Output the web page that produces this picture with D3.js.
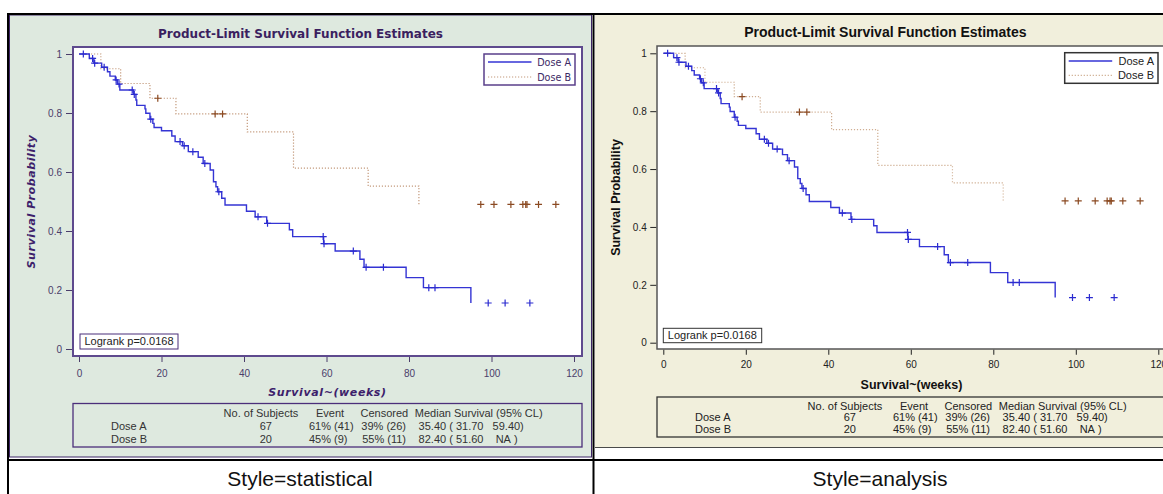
<!DOCTYPE html>
<html>
<head>
<meta charset="utf-8">
<script src="https://cdn.jsdelivr.net/npm/d3@7"></script>
<style>
  html, body { margin: 0; padding: 0; background: #ffffff; }
  svg { display: block; }
</style>
</head>
<body>
<svg id="chart" width="1163" height="494"></svg>
<script>
// ---- Product-limit (Kaplan-Meier) estimates, time in weeks ----
// Step times and the survival level reached at each step.
const doseATimes = [0, 2.5, 3.6, 5.5, 6.9, 7.5, 8.8, 9.3, 9.9, 13.2, 13.8, 14.0, 16.0, 16.2, 17.2, 17.9, 18.2,
  20.0, 22.5, 23.3, 25.1, 26.5, 28.9, 30.1, 31.8, 32.6, 33.2, 33.6, 34.6, 35.4, 40.6, 42.7, 45.5, 51.0, 51.8,
  59.3, 62.1, 68.1, 69.1, 79.3, 83.5, 95.0];
const doseASurv = [1, 0.985, 0.969, 0.955, 0.940, 0.925, 0.912, 0.898, 0.878, 0.863, 0.844, 0.826, 0.814, 0.799,
  0.779, 0.765, 0.751, 0.740, 0.722, 0.703, 0.689, 0.669, 0.650, 0.629, 0.607, 0.567, 0.550, 0.533, 0.511, 0.488,
  0.467, 0.448, 0.426, 0.404, 0.381, 0.357, 0.332, 0.304, 0.277, 0.242, 0.208, 0.156];
const doseACensored = [1.05, 3.3, 3.8, 6.1, 9.0, 9.7, 12.9, 13.4, 17.4, 24.5, 25.5, 27.6, 30.5, 33.9, 43.4, 45.7,
  59.2, 59.4, 66.5, 69.6, 73.8, 84.8, 86.3, 99.2, 103.3, 109.3];

const doseBTimes = [0, 5.3, 10.1, 17.2, 23.5, 40.8, 52.0, 70.1, 82.4];
const doseBSurv = [1, 0.95, 0.90, 0.85, 0.797, 0.736, 0.613, 0.552, 0.490];
const doseBCensored = [19.1, 33.0, 34.8, 97.4, 100.6, 104.7, 107.6, 108.3, 108.6, 111.4, 115.6];

const seriesNames = ["Dose A", "Dose B"];
const xTicks = [0, 20, 40, 60, 80, 100, 120];
const yTicks = [0, 0.2, 0.4, 0.6, 0.8, 1];

// Summary table
const tableHeader = ["No. of Subjects", "Event", "Censored", "Median Survival (95% CL)"];
const tableSubjects = [67, 20];
const tableEvent = ["61% (41)", "45% (9)"];
const tableCensored = ["39% (26)", "55% (11)"];
const tableMedianCI = ["35.40 ( 31.70   59.40)", "82.40 ( 51.60    NA )"];

const chartTitle = "Product-Limit Survival Function Estimates";
const xTitle = "Survival~(weeks)";
const yTitle = "Survival Probability";
const logrankText = "Logrank p=0.0168";
const captions = ["Style=statistical", "Style=analysis"];

// ---- drawing ----
const W = 1163, H = 494;
const svg = d3.select("#chart");
const ARIAL = "'Liberation Sans', Arial, Helvetica, sans-serif";
const VERD = "'DejaVu Sans', Verdana, sans-serif";

svg.append("rect").attr("width", W).attr("height", H).attr("fill", "#ffffff");

// panel backgrounds
svg.append("rect").attr("x", 9.5).attr("y", 15).attr("width", 582).attr("height", 442)
  .attr("fill", "#dee9df").attr("stroke", "#3d2466").attr("stroke-width", 1);
svg.append("rect").attr("x", 595).attr("y", 15).attr("width", 620).attr("height", 432.5)
  .attr("fill", "#f1efdc");
svg.append("line").attr("x1", 595).attr("x2", W).attr("y1", 447.5).attr("y2", 447.5)
  .attr("stroke", "#4a4a4a").attr("stroke-width", 1);

// outer grid of the layout table
const grid = svg.append("g").attr("stroke", "#000").attr("stroke-width", 2);
grid.append("line").attr("x1", 7).attr("x2", W).attr("y1", 14).attr("y2", 14);
grid.append("line").attr("x1", 7).attr("x2", W).attr("y1", 460).attr("y2", 460);
grid.append("line").attr("x1", 8).attr("x2", 8).attr("y1", 13).attr("y2", H);
grid.append("line").attr("x1", 593.5).attr("x2", 593.5).attr("y1", 13).attr("y2", H);

const panels = [
  { // statistical style
    ox: 0,
    frame: [73, 47, 582, 356], xRange: [79, 574], yRange: [349, 54],
    wallStroke: "#5e4a8e", wallWidth: 2,
    tickColor: "#4a3d6a", tickFont: ARIAL, tickSize: 10, xPad: 7.4, yPad: 4,
    titleFont: VERD, titleSize: 12, titleColor: "#3b1f5f", titleX: 300.5, titleY: 37.5,
    axisTitleFont: VERD, axisTitleSize: 11, axisTitleStyle: "italic", axisTitleColor: "#3d1f6b",
    axisTitleSpacing: 0.6, xTitleY: 396, yTitleX: 34.5,
    legend: [484, 54, 575, 85], legendStroke: "#5a3f8a", legendFont: VERD, legendSize: 9.6,
    legendColor: "#3d2a66", legendRows: [62, 77],
    boxStroke: "#4b2f7a", logBox: [80, 334, 178, 349], logText: "#222",
    table: [73, 403.5, 582, 447], tableRows: [416.7, 430, 443.3], tableColor: "#333",
    captionX: 300, lineA: "#3434d4", lineB: "#c49a7c", markA: "#2b2bd0", markB: "#8b4a22"
  },
  { // analysis style
    ox: 584,
    frame: [657, 46, 1166, 349], xRange: [663.3, 1158.3], yRange: [342.7, 53.3],
    wallStroke: "#555555", wallWidth: 1.5,
    tickColor: "#222", tickFont: ARIAL, tickSize: 10, xPad: 6.6, yPad: 3.5,
    titleFont: ARIAL, titleSize: 14, titleColor: "#111", titleX: 885.4, titleY: 37,
    axisTitleFont: ARIAL, axisTitleSize: 12.5, axisTitleStyle: "normal", axisTitleColor: "#111",
    axisTitleSpacing: 0, xTitleY: 388.5, yTitleX: 619.5,
    legend: [1064.7, 52.7, 1158, 83.3], legendStroke: "#333", legendFont: ARIAL, legendSize: 11,
    legendColor: "#222", legendRows: [61, 75.3],
    boxStroke: "#333", logBox: [663.3, 328.3, 761.7, 342.7], logText: "#222",
    table: [657, 397, 1166, 437], tableRows: [409.5, 421, 432.5], tableColor: "#222",
    captionX: 880, lineA: "#3434d4", lineB: "#cfae92", markA: "#2b2bd0", markB: "#8b4a22"
  }
];

// survival level in force at time t
function levelAt(times, surv, t) {
  const i = d3.bisectRight(times, t) - 1;
  return surv[Math.max(0, i)];
}

function plusPath(cx, cy, r) {
  return `M${cx - r},${cy}H${cx + r}M${cx},${cy - r}V${cy + r}`;
}

// keep runs of spaces in the confidence-limit column
const keepSpaces = s => s.replace(/ /g, "\u00a0");

panels.forEach((p, pi) => {
  const g = svg.append("g");
  const x = d3.scaleLinear().domain([0, 120]).range(p.xRange);
  const y = d3.scaleLinear().domain([0, 1]).range(p.yRange);
  const [fx0, fy0, fx1, fy1] = p.frame;

  // plot wall
  g.append("rect").attr("x", fx0).attr("y", fy0).attr("width", fx1 - fx0).attr("height", fy1 - fy0)
    .attr("fill", "#ffffff").attr("stroke", p.wallStroke).attr("stroke-width", p.wallWidth);

  // axes
  const yAxis = d3.axisLeft(y).tickValues(yTicks).tickFormat(d3.format("~g")).tickSize(6).tickPadding(p.yPad);
  const ya = g.append("g").attr("transform", `translate(${fx0 - p.wallWidth / 2},0)`).call(yAxis);
  const xAxis = d3.axisBottom(x).tickValues(xTicks).tickFormat(d3.format("d")).tickSize(5).tickPadding(p.xPad);
  const xa = g.append("g").attr("transform", `translate(0,${fy1 + p.wallWidth / 2})`).call(xAxis);
  [ya, xa].forEach(a => {
    a.select(".domain").remove();
    a.selectAll(".tick line").attr("stroke", p.tickColor).attr("stroke-width", 1);
    a.selectAll(".tick text").attr("fill", p.tickColor).attr("font-family", p.tickFont)
      .attr("font-size", p.tickSize);
  });

  // titles
  g.append("text").attr("x", p.titleX).attr("y", p.titleY).attr("text-anchor", "middle")
    .attr("font-family", p.titleFont).attr("font-weight", "bold").attr("font-size", p.titleSize)
    .attr("fill", p.titleColor).text(chartTitle);
  g.append("text").attr("x", (fx0 + fx1) / 2).attr("y", p.xTitleY).attr("text-anchor", "middle")
    .attr("font-family", p.axisTitleFont).attr("font-weight", "bold").attr("font-style", p.axisTitleStyle)
    .attr("font-size", p.axisTitleSize).attr("fill", p.axisTitleColor)
    .attr("letter-spacing", p.axisTitleSpacing).text(xTitle);
  g.append("text").attr("transform", `translate(${p.yTitleX},${(fy0 + fy1) / 2}) rotate(-90)`)
    .attr("text-anchor", "middle")
    .attr("font-family", p.axisTitleFont).attr("font-weight", "bold").attr("font-style", p.axisTitleStyle)
    .attr("font-size", p.axisTitleSize).attr("fill", p.axisTitleColor)
    .attr("letter-spacing", p.axisTitleSpacing).text(yTitle);

  // survival curves
  const step = d3.line().x(d => x(d[0])).y(d => y(d[1])).curve(d3.curveStepAfter);
  const ptsA = doseATimes.map((t, i) => [t, doseASurv[i]]);
  const ptsB = doseBTimes.map((t, i) => [t, doseBSurv[i]]);
  g.append("path").attr("d", step(ptsB)).attr("fill", "none").attr("stroke", p.lineB)
    .attr("stroke-width", 1.2).attr("stroke-dasharray", "1.2,1.8");
  g.append("path").attr("d", step(ptsA)).attr("fill", "none").attr("stroke", p.lineA)
    .attr("stroke-width", 1.4);

  // censored observations
  g.append("g").selectAll("path").data(doseBCensored).join("path")
    .attr("d", t => plusPath(x(t), y(levelAt(doseBTimes, doseBSurv, t)), 3.5))
    .attr("stroke", p.markB).attr("stroke-width", 1.2).attr("fill", "none");
  g.append("g").selectAll("path").data(doseACensored).join("path")
    .attr("d", t => plusPath(x(t), y(levelAt(doseATimes, doseASurv, t)), 3.5))
    .attr("stroke", p.markA).attr("stroke-width", 1.2).attr("fill", "none");

  // legend
  const [lx0, ly0, lx1, ly1] = p.legend;
  const lg = g.append("g");
  lg.append("rect").attr("x", lx0).attr("y", ly0).attr("width", lx1 - lx0).attr("height", ly1 - ly0)
    .attr("fill", "#ffffff").attr("stroke", p.legendStroke).attr("stroke-width", 1.5);
  seriesNames.forEach((name, i) => {
    const ly = p.legendRows[i];
    lg.append("line").attr("x1", lx0 + 4).attr("x2", lx0 + 47.5).attr("y1", ly).attr("y2", ly)
      .attr("stroke", i === 0 ? p.lineA : p.lineB).attr("stroke-width", i === 0 ? 1.4 : 1.2)
      .attr("stroke-dasharray", i === 0 ? null : "1.2,1.8");
    lg.append("text").attr("x", lx1 - 4).attr("y", ly + 3.8).attr("text-anchor", "end")
      .attr("font-family", p.legendFont).attr("font-size", p.legendSize).attr("fill", p.legendColor)
      .text(name);
  });

  // log-rank box
  const [bx0, by0, bx1, by1] = p.logBox;
  g.append("rect").attr("x", bx0).attr("y", by0).attr("width", bx1 - bx0).attr("height", by1 - by0)
    .attr("fill", "#ffffff").attr("stroke", p.boxStroke).attr("stroke-width", 1);
  g.append("text").attr("x", bx0 + 4.5).attr("y", by1 - 3.6).attr("font-family", ARIAL).attr("font-size", 11)
    .attr("fill", p.logText).text(logrankText);

  // summary table
  const [tx0, ty0, tx1, ty1] = p.table;
  const tg = g.append("g").attr("font-family", ARIAL).attr("font-size", 11).attr("fill", p.tableColor);
  tg.append("rect").attr("x", tx0).attr("y", ty0).attr("width", tx1 - tx0).attr("height", ty1 - ty0)
    .attr("fill", "none").attr("stroke", p.boxStroke).attr("stroke-width", 1.3);
  const ox = p.ox;
  const headX = [223.6, 316, 360.5, 414.8];
  tableHeader.forEach((h, i) => {
    tg.append("text").attr("x", ox + headX[i]).attr("y", p.tableRows[0]).text(h);
  });
  seriesNames.forEach((name, i) => {
    const ry = p.tableRows[i + 1];
    tg.append("text").attr("x", ox + 111).attr("y", ry).text(name);
    tg.append("text").attr("x", ox + 272).attr("y", ry).attr("text-anchor", "end").text(tableSubjects[i]);
    tg.append("text").attr("x", ox + 309).attr("y", ry).text(tableEvent[i]);
    tg.append("text").attr("x", ox + 406).attr("y", ry).attr("text-anchor", "end").text(tableCensored[i]);
    tg.append("text").attr("x", ox + 418.6).attr("y", ry).text(keepSpaces(tableMedianCI[i]));
  });

  // caption cell
  svg.append("text").attr("x", p.captionX).attr("y", 485.5).attr("text-anchor", "middle")
    .attr("font-family", ARIAL).attr("font-size", 21).attr("fill", "#111").text(captions[pi]);
});
</script>
</body>
</html>
